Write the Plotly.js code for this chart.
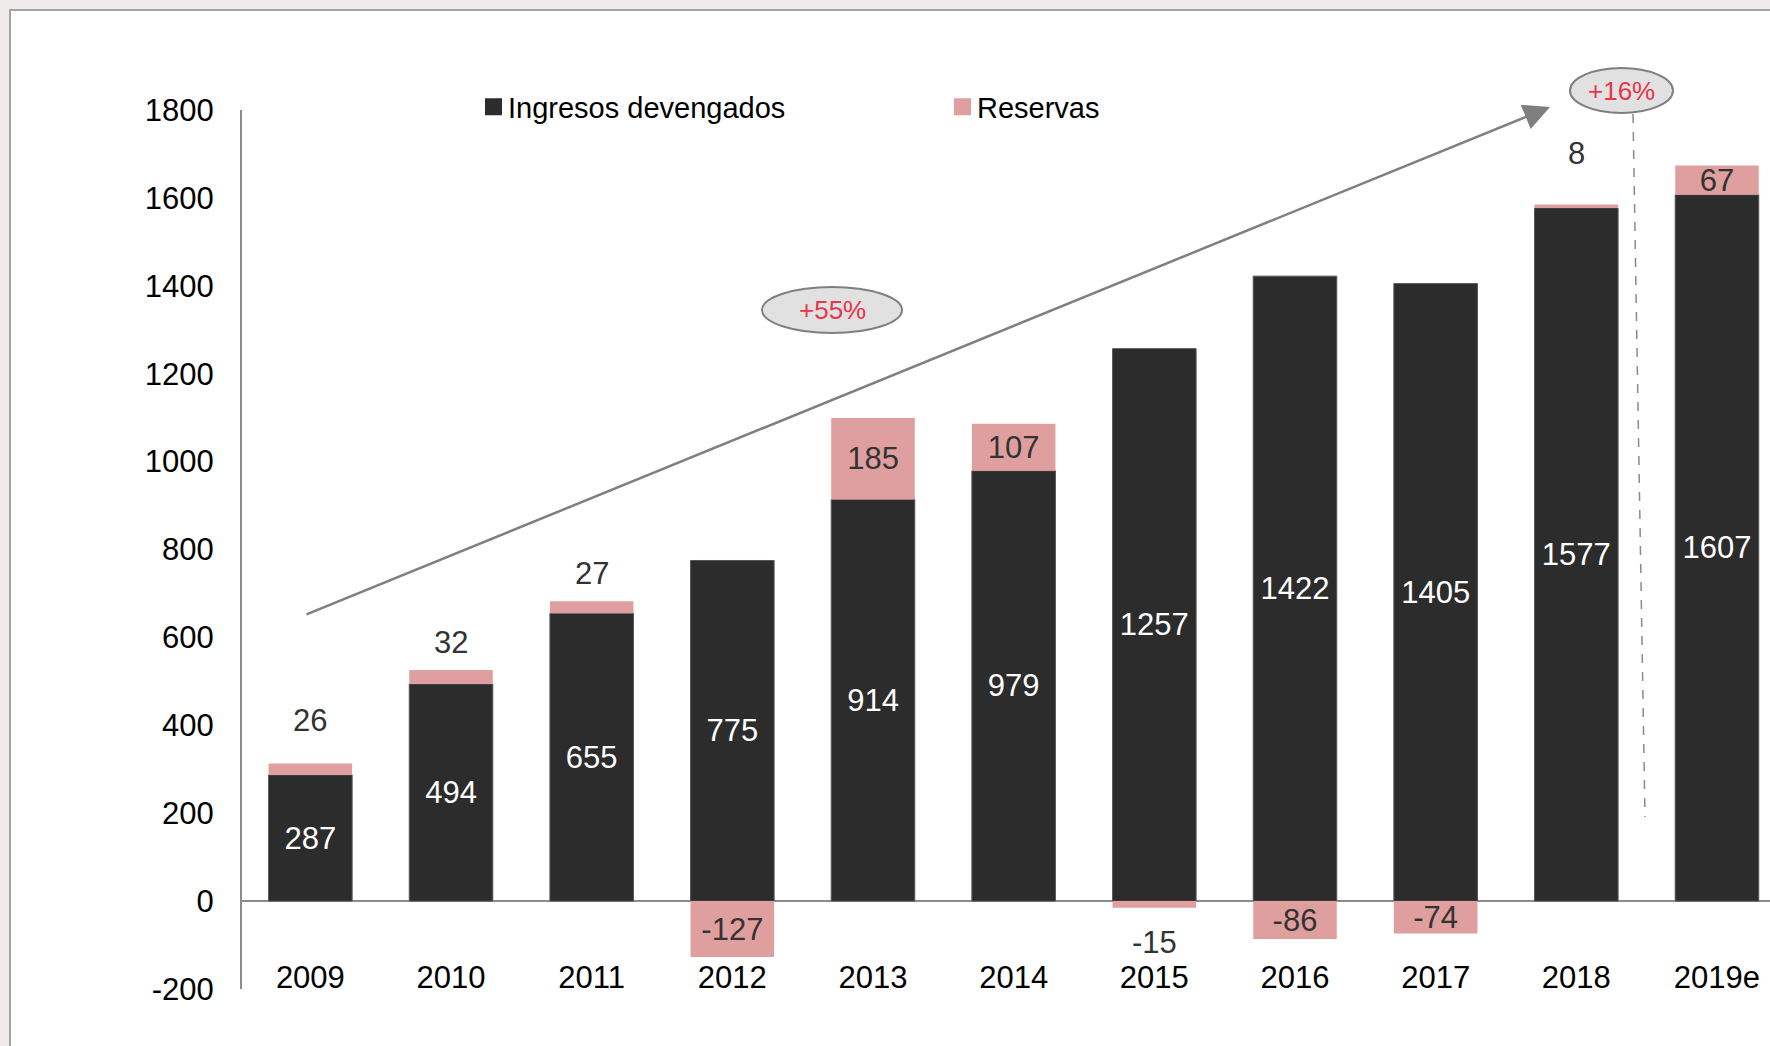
<!DOCTYPE html>
<html>
<head>
<meta charset="utf-8">
<script src="https://cdn.plot.ly/plotly-3.0.1.min.js"></script>
<style>
  html, body { margin: 0; padding: 0; width: 1770px; height: 1046px; overflow: hidden; background: #efebea; }
  #frame { position: absolute; left: 9px; top: 9px; width: 1780px; height: 1060px; background: #ffffff;
           border-left: 2px solid #a3a3a3; border-top: 2px solid #a3a3a3; }
  #chart { position: absolute; left: 0; top: 0; width: 1770px; height: 1046px; }
</style>
</head>
<body>
<div id="frame"></div>
<div id="chart"></div>
<script>
// ---- data ----
const years = ['2009', '2010', '2011', '2012', '2013', '2014', '2015', '2016', '2017', '2018', '2019e'];
const ingresos = [287, 494, 655, 775, 914, 979, 1257, 1422, 1405, 1577, 1607];
const reservas = [26, 32, 27, -127, 185, 107, -15, -86, -74, 8, 67];
const yTicks = [-200, 0, 200, 400, 600, 800, 1000, 1200, 1400, 1600, 1800];
const growthLabels = ['+55%', '+16%'];
const seriesNames = ['Ingresos devengados', 'Reservas'];

// ---- style ----
const DARK = '#2c2c2c';
const PINK = '#e09f9f';
const BASE_FONT = 'Liberation Sans, Arial, sans-serif';
// pixel offsets of the small "Reservas" labels placed outside the bars
const outsideShift = [43, 27, 28, 0, 0, 0, -35, 0, 0, 51, 0];
const INSIDE_MIN = 50;
const LEGEND_SWATCH = 17;   // px
const LEGEND_TEXT_GAP = 6;  // px

// plot area geometry in pixels
const P = { L: 242, T: 110, W: 1528, H: 879 };
const px = X => (X - P.L) / P.W;
const py = Y => (P.T + P.H - Y) / P.H;

const traceIng = {
  type: 'bar', name: seriesNames[0], x: years, y: ingresos,
  marker: { color: DARK, line: { color: '#555555', width: 1 } },
  text: ingresos.map(String), textposition: 'inside', insidetextanchor: 'middle', textangle: 0,
  constraintext: 'none',
  textfont: { family: BASE_FONT, size: 31, color: '#ffffff' },
  hoverinfo: 'skip'
};
const traceRes = {
  type: 'bar', name: seriesNames[1], x: years, y: reservas,
  marker: { color: PINK, line: { color: PINK, width: 0 } },
  text: reservas.map(v => Math.abs(v) >= INSIDE_MIN ? String(v) : ''),
  textposition: 'inside', insidetextanchor: 'middle', textangle: 0,
  constraintext: 'none',
  textfont: { family: BASE_FONT, size: 31, color: '#333333' },
  hoverinfo: 'skip'
};

const annotations = [];
reservas.forEach((v, i) => {
  if (Math.abs(v) < INSIDE_MIN) {
    const end = v >= 0 ? ingresos[i] + v : v;
    annotations.push({
      x: i, y: end, xref: 'x', yref: 'y', text: String(v), showarrow: false,
      xanchor: 'center', yanchor: 'middle',
      yshift: outsideShift[i], font: { family: BASE_FONT, size: 31, color: '#333333' }
    });
  }
});
// growth arrow
annotations.push({
  xref: 'paper', yref: 'paper', x: px(1550), y: py(107),
  axref: 'pixel', ayref: 'pixel', ax: 305 - 1550, ay: 615 - 107,
  text: '', showarrow: true, arrowhead: 2, arrowsize: 2.1, arrowwidth: 2.5, arrowcolor: '#7f7f7f', standoff: 0
});
// ellipse labels
annotations.push({ xref: 'paper', yref: 'paper', x: px(832), y: py(310), text: growthLabels[0], showarrow: false,
  xanchor: 'center', yanchor: 'middle', font: { family: BASE_FONT, size: 26, color: '#e8344c' } });
annotations.push({ xref: 'paper', yref: 'paper', x: px(1621), y: py(91), text: growthLabels[1], showarrow: false,
  xanchor: 'center', yanchor: 'middle', font: { family: BASE_FONT, size: 26, color: '#e8344c' } });

const shapes = [
  { type: 'circle', xref: 'paper', yref: 'paper', x0: px(762), x1: px(902), y0: py(333), y1: py(287),
    fillcolor: '#e1e1e1', line: { color: '#7f7f7f', width: 2 }, layer: 'above' },
  { type: 'circle', xref: 'paper', yref: 'paper', x0: px(1570), x1: px(1673), y0: py(113), y1: py(68),
    fillcolor: '#e1e1e1', line: { color: '#7f7f7f', width: 2 }, layer: 'above' },
  { type: 'line', xref: 'paper', yref: 'paper', x0: px(1633), x1: px(1645), y0: py(114), y1: py(817),
    line: { color: '#8a8a8a', width: 1.5, dash: 'dash' }, layer: 'above' }
];

const layout = {
  width: 1770, height: 1046,
  margin: { l: P.L, r: 1770 - P.L - P.W, t: P.T, b: 1046 - P.T - P.H, pad: 0 },
  paper_bgcolor: 'rgba(0,0,0,0)', plot_bgcolor: 'rgba(0,0,0,0)',
  barmode: 'relative', bargap: 0.406,
  showlegend: true,
  legend: {
    orientation: 'h', x: px(468), xanchor: 'left', y: py(107), yanchor: 'middle',
    entrywidth: 424, entrywidthmode: 'pixels', traceorder: 'normal',
    font: { family: BASE_FONT, size: 29, color: '#000000' }, bgcolor: 'rgba(0,0,0,0)'
  },
  xaxis: {
    type: 'category', range: [-0.486, 10.377], anchor: 'free', position: 0.038,
    showline: false, showgrid: false, zeroline: false, ticks: '',
    tickfont: { family: BASE_FONT, size: 31, color: '#000000' }, fixedrange: true
  },
  yaxis: {
    range: [-200, 1800], tickvals: yTicks, ticktext: yTicks.map(String),
    showline: true, linecolor: '#8c8c8c', linewidth: 2,
    showgrid: false, zeroline: true, zerolinecolor: '#8c8c8c', zerolinewidth: 2,
    layer: 'above traces',
    ticks: '', ticklabelstandoff: 20,
    tickfont: { family: BASE_FONT, size: 31, color: '#000000' }, fixedrange: true
  },
  annotations: annotations,
  shapes: shapes,
  hovermode: false
};

Plotly.newPlot('chart', [traceIng, traceRes], layout, { displayModeBar: false, staticPlot: true })
  .then(gd => {
    // enlarge legend swatches to match the original's larger squares
    gd.querySelectorAll('.legend .traces').forEach(item => {
      const sw = item.querySelector('.legendpoints path');
      const txt = item.querySelector('.legendtext');
      if (!sw || !txt) return;
      const r = sw.getBoundingClientRect();
      const t = txt.getBoundingClientRect();
      const cx = (r.left + r.right) / 2;
      const h = LEGEND_SWATCH / 2;
      const dx = (t.left - LEGEND_TEXT_GAP - h) - cx;
      sw.setAttribute('d', `M${dx + h},${h}H${dx - h}V${-h}H${dx + h}Z`);
      sw.style.strokeWidth = '0';
    });
  });
</script>
</body>
</html>
